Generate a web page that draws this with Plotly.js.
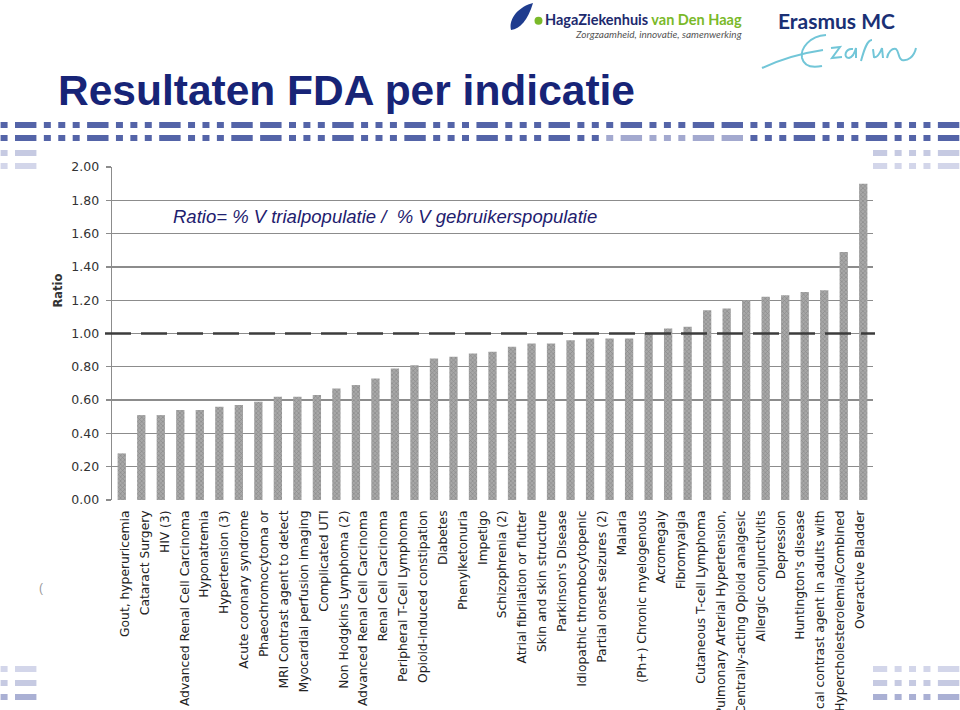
<!DOCTYPE html>
<html><head><meta charset="utf-8">
<script src="https://cdn.plot.ly/plotly-3.0.1.min.js"></script>
<style>html,body{margin:0;padding:0;background:#fff}#chart{width:960px;height:710px}</style>
</head><body><div id="chart"></div>
<script>
// ---------------- DATA ----------------
const indications = [
  "Gout, hyperuricemia", "Cataract Surgery", "HIV (3)", "Advanced Renal Cell Carcinoma",
  "Hyponatremia", "Hypertension (3)", "Acute coronary syndrome", "Phaeochromocytoma or",
  "MRI Contrast agent to detect", "Myocardial perfusion imaging", "Complicated UTI",
  "Non Hodgkins Lymphoma (2)", "Advanced Renal Cell Carcinoma", "Renal Cell Carcinoma",
  "Peripheral T-Cell Lymphoma", "Opioid-induced constipation", "Diabetes", "Phenylketonuria",
  "Impetigo", "Schizophrenia (2)", "Atrial fibrilation or flutter", "Skin and skin structure",
  "Parkinson's Disease", "Idiopathic thrombocytopenic", "Partial onset seizures (2)", "Malaria",
  "(Ph+) Chronic myelogenous", "Acromegaly", "Fibromyalgia", "Cutaneous T-cell Lymphoma",
  "Pulmonary Arterial Hypertension,", "Centrally-acting Opioid analgesic", "Allergic conjunctivitis",
  "Depression", "Huntington's disease", "Radiological contrast agent in adults with",
  "Hypercholesterolemia/Combined", "Overactive Bladder"
];
const ratio = [
  0.28, 0.51, 0.51, 0.54, 0.54, 0.56, 0.57, 0.59, 0.62, 0.62,
  0.63, 0.67, 0.69, 0.73, 0.79, 0.81, 0.85, 0.86, 0.88, 0.89,
  0.92, 0.94, 0.94, 0.96, 0.97, 0.97, 0.97, 1.00, 1.03, 1.04,
  1.14, 1.15, 1.20, 1.22, 1.23, 1.25, 1.26, 1.49, 1.90
];
const referenceRatio = 1.0;
const yTickValues = [0, 0.2, 0.4, 0.6, 0.8, 1.0, 1.2, 1.4, 1.6, 1.8, 2.0];
const slideTitle = "Resultaten FDA per indicatie";
const formulaText = "Ratio= % V trialpopulatie /  % V gebruikerspopulatie";
const yTitle = "Ratio";

// ---------------- GEOMETRY HELPERS ----------------
const L = 112, R = 873, T = 167, B = 500;
const fx = x => (x - L) / (R - L);
const fy = y => (B - y) / (B - T);
function toPaper(d) {
  const t = d.trim().split(/[\s,]+/); const out = []; let isX = true;
  for (const s of t) {
    if (/^[A-Za-z]$/.test(s)) { out.push(s); isX = true; }
    else { const v = parseFloat(s); out.push(isX ? fx(v).toFixed(5) : fy(v).toFixed(5)); isX = !isX; }
  }
  return out.join(' ');
}

const barIdx = ratio.map((_, i) => i);
const labelIdx = indications.map((_, i) => i);

// ---------------- TRACES ----------------
const traces = [
  {
    type: 'bar', x: barIdx, y: ratio, xaxis: 'x', yaxis: 'y',
    marker: { color: '#9c9c9c', line: { width: 0 },
      pattern: { shape: 'x', size: 3, solidity: 0.35, fgcolor: '#858585', bgcolor: '#a8a8a8' } },
    hoverinfo: 'skip', showlegend: false
  },
  {
    type: 'scatter', mode: 'markers', x: labelIdx, y: labelIdx.map(() => 0),
    xaxis: 'x2', yaxis: 'y', marker: { opacity: 0, size: 1 }, hoverinfo: 'skip', showlegend: false
  }
];

// ---------------- DECORATION SHAPES ----------------
const shapes = [];
const pat = "S" + "L_SSS".repeat(3) + "L_L_SSS" + "L_SSS".repeat(5) + "L_L_SSS" + "L_SSS".repeat(2) + "L_";
const pitch = 14.42, x0base = 15 - pitch;
const rows = [
  { y0: 122, y1: 128, color: '#5464a8', light: '#5464a8', edges: false },
  { y0: 135, y1: 141, color: '#5464a8', light: '#a3a9cf', edges: false },
  { y0: 150, y1: 156, color: '#c6cae2', light: '#c6cae2', edges: true },
  { y0: 163, y1: 169, color: '#d3d6ea', light: '#d3d6ea', edges: true },
  { y0: 666, y1: 672, color: '#d3d6ea', light: '#d3d6ea', edges: true },
  { y0: 680, y1: 686, color: '#c6cae2', light: '#c6cae2', edges: true },
  { y0: 694, y1: 700, color: '#aab0d4', light: '#aab0d4', edges: true }
];
rows.forEach(r => {
  for (let i = 0; i < pat.length; i++) {
    const c = pat[i]; if (c === '_') continue;
    const k = i - 1;
    let xa = x0base + pitch * i, xb = xa + (c === 'L' ? 7 + pitch : 7);
    if (r.edges) {
      if (xb <= 40) { /* keep */ }
      else if (xb > 873) { xa = Math.max(xa, 873); }
      else continue;
    }
    xb = Math.min(xb, 960);
    const col = (k >= 41 && k <= 50) ? r.light : r.color;
    shapes.push({ type: 'rect', xref: 'paper', yref: 'paper', layer: 'below',
      x0: fx(xa), x1: fx(xb), y0: fy(r.y1), y1: fy(r.y0),
      fillcolor: col, line: { width: 0 } });
  }
});
// Haga leaf + dot
shapes.push({ type: 'path', xref: 'paper', yref: 'paper',
  path: toPaper("M 533 3 C 520 6 508 18 511 30 C 520 29 528 20 533 3 Z"),
  fillcolor: '#1f3c8e', line: { width: 0 } });
shapes.push({ type: 'circle', xref: 'paper', yref: 'paper',
  x0: fx(534.5), x1: fx(542.5), y0: fy(24.7), y1: fy(16.7), fillcolor: '#7ab929', line: { width: 0 } });
// Erasmus signature
const sig = [
  "M 762 68 C 775 62 796 54 823 50",
  "M 826 35 C 810 36 800 48 802 58 C 804 66 812 68 822 66",
  "M 831 48 L 840 47 L 832 58 L 842 57",
  "M 853 49 C 845 48 843 58 849 58 C 853 57 855 52 856 48 L 856 58",
  "M 861 61 C 864 50 867 40 872 40",
  "M 873 49 L 874 57 C 877 58 880 53 882 48 L 883 58",
  "M 887 58 C 888 52 892 48 896 49 C 899 51 898 58 902 60 C 908 61 914 57 916 48"
];
sig.forEach(d => shapes.push({ type: 'path', xref: 'paper', yref: 'paper', path: toPaper(d),
  line: { color: '#72c6d8', width: 2 } }));
// Reference line at ratio = 1
shapes.push({ type: 'line', xref: 'paper', yref: 'y', x0: fx(105), x1: fx(875),
  y0: referenceRatio, y1: referenceRatio, line: { color: '#3c3c3c', width: 2.5, dash: '26px,10px' } });

// ---------------- ANNOTATIONS ----------------
const annotations = [
  { text: formulaText, xref: 'paper', yref: 'paper', x: fx(171), y: fy(216), xanchor: 'left', yanchor: 'middle',
    showarrow: false, font: { family: 'Liberation Sans, Arial, sans-serif', size: 18.5, style: 'italic', color: '#1e206e' } },
  { text: yTitle, xref: 'paper', yref: 'paper', x: fx(57.5), y: fy(291), xanchor: 'center', yanchor: 'middle',
    textangle: -90, showarrow: false, font: { family: 'DejaVu Sans, sans-serif', size: 11.5, weight: 'bold', color: '#333' } },
  { text: "HagaZiekenhuis <span style='color:#7ab929'>van Den Haag</span>", xref: 'paper', yref: 'paper',
    x: fx(543), y: fy(19), xanchor: 'left', yanchor: 'middle', showarrow: false,
    font: { family: 'Lato, sans-serif', size: 14.5, weight: 'bold', color: '#1d2a6e' } },
  { text: "Zorgzaamheid, innovatie, samenwerking", xref: 'paper', yref: 'paper',
    x: fx(744), y: fy(34), xanchor: 'right', yanchor: 'middle', showarrow: false,
    font: { family: 'Lato, sans-serif', size: 10, style: 'italic', color: '#555' } },
  { text: "Erasmus MC", xref: 'paper', yref: 'paper', x: fx(776), y: fy(20.5), xanchor: 'left', yanchor: 'middle',
    showarrow: false, font: { family: 'Lato, sans-serif', size: 21, weight: 'bold', color: '#1a3075' } },
  { text: "(", xref: 'paper', yref: 'paper', x: fx(41), y: fy(588), xanchor: 'center', yanchor: 'middle',
    showarrow: false, font: { family: 'Liberation Sans, sans-serif', size: 12, color: '#999' } }
];

// ---------------- LAYOUT ----------------
const layout = {
  width: 960, height: 710,
  margin: { l: L, r: 960 - R, t: T, b: 710 - B, pad: 0 },
  paper_bgcolor: '#ffffff', plot_bgcolor: '#ffffff',
  showlegend: false,
  title: { text: slideTitle, xref: 'container', yref: 'container', x: 58 / 960, xanchor: 'left',
    y: 1 - 90 / 710, yanchor: 'middle',
    font: { family: 'Liberation Sans, Arial, sans-serif', size: 42.5, weight: 'bold', color: '#172477' } },
  bargap: 0.575,
  xaxis: { range: [-0.5, ratio.length - 0.5], showticklabels: false, showgrid: false, zeroline: false,
    showline: false, ticks: '' },
  xaxis2: { overlaying: 'x', anchor: 'y', side: 'bottom', range: [-0.654, indications.length - 0.35],
    tickmode: 'array', tickvals: labelIdx, ticktext: indications, tickangle: -90,
    showgrid: false, zeroline: false, showline: false, ticks: '', ticklabelstandoff: 7,
    tickfont: { family: 'DejaVu Sans, sans-serif', size: 12.3, color: '#222' } },
  yaxis: { range: [0, 2], tickmode: 'array', tickvals: yTickValues, tickformat: '.2f',
    showgrid: true, gridcolor: '#8c8c8c', gridwidth: 1.3, zeroline: false,
    showline: true, linecolor: '#8c8c8c', linewidth: 1.3,
    ticks: 'outside', ticklen: 5, tickcolor: '#8c8c8c', tickwidth: 1.3, ticklabelstandoff: 4,
    tickfont: { family: 'DejaVu Sans, Verdana, sans-serif', size: 12.5, color: '#333' } },
  shapes: shapes,
  annotations: annotations
};

Plotly.newPlot('chart', traces, layout, { staticPlot: true, displayModeBar: false });
</script>
</body></html>
